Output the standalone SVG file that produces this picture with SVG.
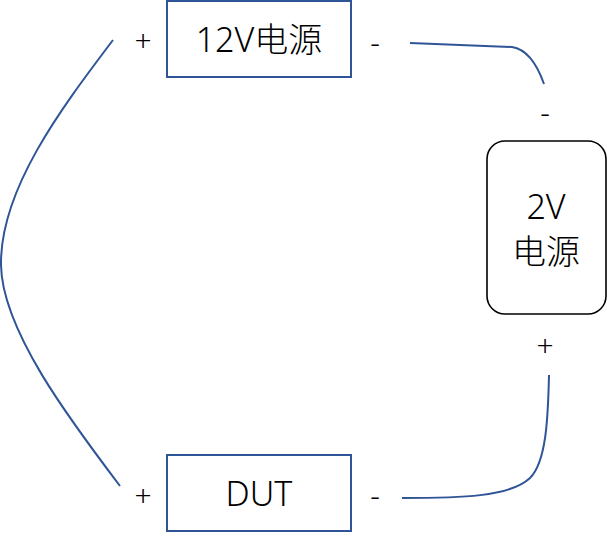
<svg xmlns="http://www.w3.org/2000/svg" width="607" height="540" viewBox="0 0 607 540">
<style>
.box{fill:#fff;stroke:#2F5597;stroke-width:2}
.box2{fill:#fff;stroke:#000;stroke-width:1.6}
.wire{fill:none;stroke:#2F5597;stroke-width:2}
.t{font-family:"Noto Sans","Noto Sans CJK SC",sans-serif;font-weight:300;font-size:34px;fill:#000;text-anchor:middle;dominant-baseline:central}
.s{font-family:"Noto Sans","Noto Sans CJK SC",sans-serif;font-weight:300;font-size:30px;fill:#000;text-anchor:middle;dominant-baseline:central}
</style>
<rect width="607" height="540" fill="#fff"/>
<g id="connectors">
<path class="wire" d="M113,40 C60,110 0,190 1,265 C2,330 70,420 120,486"/>
<path class="wire" d="M410,43 L512,47 Q532,50 544,84"/>
<path class="wire" d="M402,498 C460,498 510,497 530,478 C546,462 548,420 549,375"/>
</g>
<g id="psu12">
<rect class="box" x="167" y="1" width="184" height="76"/>
<text class="t" x="259" y="39">12V电源</text>
<text class="s" x="143" y="39">+</text>
<text class="s" x="375" y="41">-</text>
</g>
<g id="psu2">
<rect class="box2" x="487" y="141" width="119" height="173" rx="18"/>
<text class="t" x="546" y="206">2V</text>
<text class="t" x="546" y="251">电源</text>
<text class="s" x="545" y="111">-</text>
<text class="s" x="545" y="344">+</text>
</g>
<g id="dut">
<rect class="box" x="167" y="455" width="184" height="76"/>
<text class="t" x="259" y="493">DUT</text>
<text class="s" x="143" y="494">+</text>
<text class="s" x="375" y="494">-</text>
</g>
</svg>
